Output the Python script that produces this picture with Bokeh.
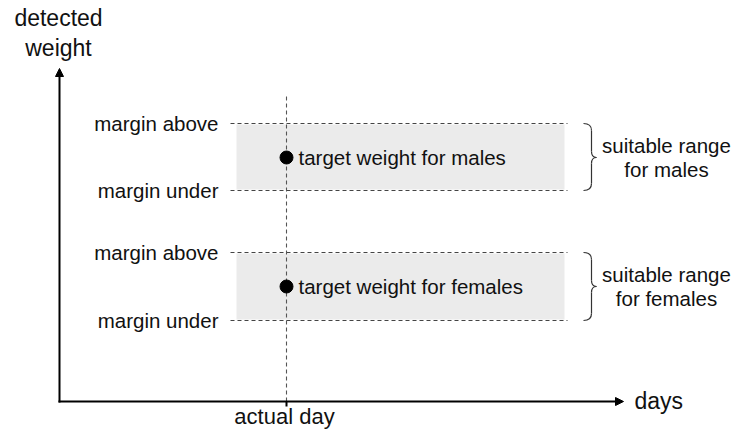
from bokeh.plotting import figure
from bokeh.models import Range1d, Arrow, NormalHead
from bokeh.core.properties import value
from bokeh.embed import file_html
from bokeh.resources import INLINE

# ---- schematic data (units: days on x, detected weight on y; origin at axis corner) ----
groups = ["males", "females"]
target_weight = [244, 115]
margin_above = [278, 149]
margin_under = [211, 81]
range_labels_1 = ["suitable range", "suitable range"]
range_labels_2 = ["for males", "for females"]
target_labels = ["target weight for males", "target weight for females"]
actual_day = 227
range_start_day = 177
range_end_day = 505
line_start_day = 171
line_end_day = 508
x_axis_end = 564
y_axis_end = 333
vline_top = 308

FONT = value("Liberation Sans")

p = figure(width=737, height=430, output_backend="svg", toolbar_location=None,
           x_range=Range1d(-59, 678), y_range=Range1d(-29, 401),
           min_border=0, min_border_left=0, min_border_right=0,
           min_border_top=0, min_border_bottom=0)
p.axis.visible = False
p.grid.visible = False
p.outline_line_color = None
p.background_fill_color = "white"
p.border_fill_color = "white"

# gray bands
p.quad(left=[range_start_day] * 2, right=[range_end_day] * 2,
       bottom=[u + 1 for u in margin_under], top=[a - 1 for a in margin_above],
       fill_color="#ebebeb", line_color=None)

# dashed margin lines
ys = margin_above + margin_under
p.segment(x0=[line_start_day] * len(ys), x1=[line_end_day] * len(ys), y0=ys, y1=ys,
          line_color="#444444", line_width=1.1, line_dash="4 3")

# vertical dashed line at actual day
p.segment(x0=[actual_day], x1=[actual_day], y0=[0], y1=[vline_top],
          line_color="#555555", line_width=1.1, line_dash="4 3")
p.segment(x0=[actual_day], x1=[actual_day], y0=[-5], y1=[0],
          line_color="black", line_width=2)

# axes with arrows
p.add_layout(Arrow(end=NormalHead(size=8, fill_color="black", line_color="black"),
                   x_start=-1, y_start=0, x_end=x_axis_end, y_end=0,
                   line_width=2, line_color="black"))
p.add_layout(Arrow(end=NormalHead(size=8, fill_color="black", line_color="black"),
                   x_start=0, y_start=-1, x_end=0, y_end=y_axis_end,
                   line_width=2, line_color="black"))

# target dots
p.scatter(x=[actual_day] * 2, y=target_weight, size=13, color="black")

# text labels
ts = "20.5px"
p.text(x=[line_start_day - 12] * 4, y=ys,
       text=["margin above"] * 2 + ["margin under"] * 2,
       text_align="right", text_baseline="middle", text_font=FONT,
       text_font_size=ts, text_color="#111111")
p.text(x=[actual_day + 12] * 2, y=target_weight, text=target_labels,
       text_align="left", text_baseline="middle", text_font=FONT,
       text_font_size=ts, text_color="#111111")
p.text(x=[607] * 2, y=[t + 12 for t in target_weight], text=range_labels_1,
       text_align="center", text_baseline="middle", text_font=FONT,
       text_font_size=ts, text_color="#111111")
p.text(x=[607] * 2, y=[t - 12 for t in target_weight], text=range_labels_2,
       text_align="center", text_baseline="middle", text_font=FONT,
       text_font_size=ts, text_color="#111111")

axs = "23px"
p.text(x=[-1], y=[384], text=["detected"], text_align="center", text_baseline="middle",
       text_font=FONT, text_font_size=axs, text_color="#111111")
p.text(x=[-1], y=[354], text=["weight"], text_align="center", text_baseline="middle",
       text_font=FONT, text_font_size=axs, text_color="#111111")
p.text(x=[575], y=[1], text=["days"], text_align="left", text_baseline="middle",
       text_font=FONT, text_font_size=axs, text_color="#111111")
p.text(x=[actual_day - 2], y=[-15], text=["actual day"], text_align="center",
       text_baseline="middle", text_font=FONT, text_font_size="22px",
       text_color="#111111")

# braces
bx0, bx1, bx2 = 524, 532, 537
for a, u, t in zip(margin_above, margin_under, target_weight):
    p.quadratic(x0=[bx0, bx1, bx2, bx1], y0=[a, t + 6, t, u + 7],
                x1=[bx1, bx2, bx1, bx0], y1=[a - 7, t, t - 6, u],
                cx=[bx1, bx1, bx1, bx1], cy=[a, t, t, u],
                line_color="#333333", line_width=1.2)
    p.segment(x0=[bx1, bx1], x1=[bx1, bx1], y0=[a - 7, t - 6], y1=[t + 6, u + 7],
              line_color="#333333", line_width=1.2)

open("out.html", "w").write(file_html(p, INLINE))
